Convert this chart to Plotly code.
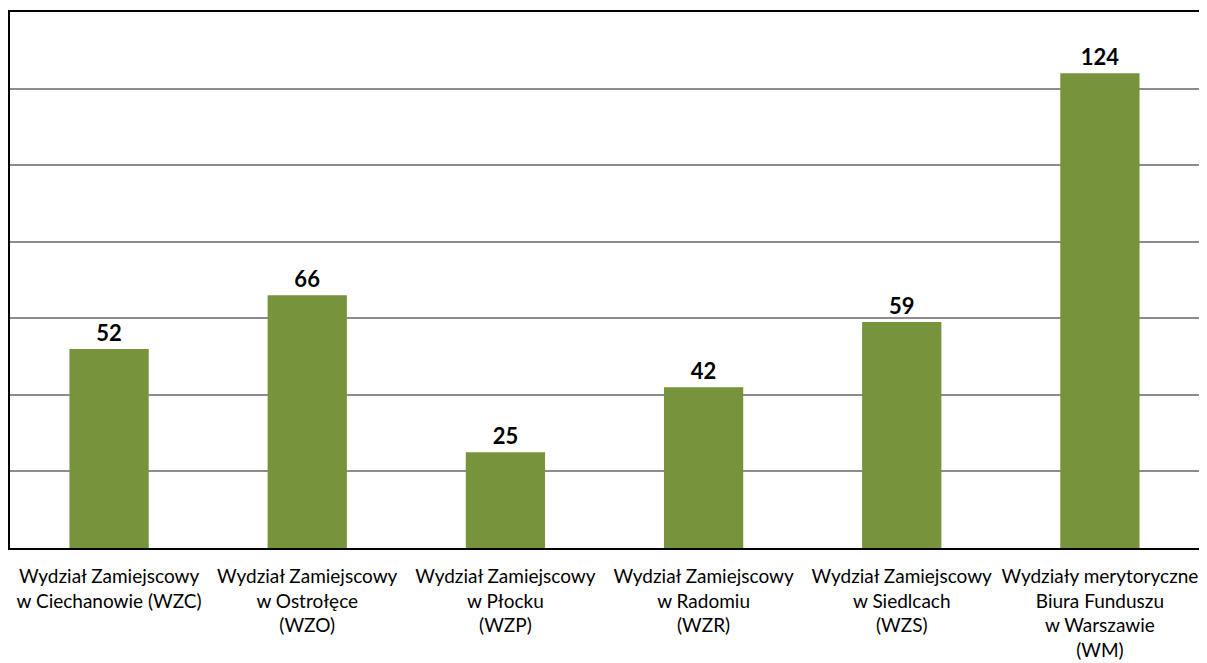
import plotly.graph_objects as go

categories = [
    "Wydział Zamiejscowy<br>w Ciechanowie (WZC)",
    "Wydział Zamiejscowy<br>w Ostrołęce<br>(WZO)",
    "Wydział Zamiejscowy<br>w Płocku<br>(WZP)",
    "Wydział Zamiejscowy<br>w Radomiu<br>(WZR)",
    "Wydział Zamiejscowy<br>w Siedlcach<br>(WZS)",
    "Wydziały merytoryczne<br>Biura Funduszu<br>w Warszawie<br>(WM)",
]
values = [52, 66, 25, 42, 59, 124]

fig = go.Figure(go.Bar(
    x=categories,
    y=values,
    marker=dict(color="#77933C", line=dict(width=0)),
    text=[str(v) for v in values],
    textposition="outside",
    textfont=dict(family="Lato", size=22, color="black", weight="bold"),
    cliponaxis=False,
))

fig.update_layout(
    width=1191, height=655,
    margin=dict(l=2, r=0, t=4, b=115, autoexpand=False),
    paper_bgcolor="white", plot_bgcolor="white",
    bargap=0.6,
    showlegend=False,
    font=dict(family="Lato", size=19, color="black"),
)
fig.update_xaxes(
    showline=True, linecolor="black", linewidth=2, mirror=True,
    ticks="", tickfont=dict(family="Lato", size=19, color="black"),
    ticklabelstandoff=10,
)
fig.update_yaxes(
    range=[0, 140], dtick=20,
    showgrid=True, gridcolor="#8C8C8C", gridwidth=1.5,
    showline=True, linecolor="black", linewidth=2, mirror=True,
    showticklabels=False, ticks="", zeroline=False,
)

fig.write_html("out.html")
